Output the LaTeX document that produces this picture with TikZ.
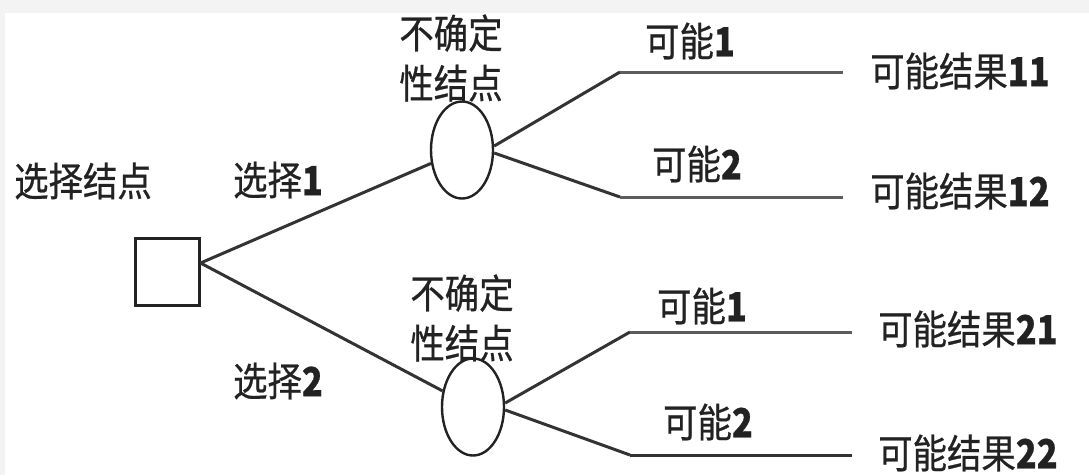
\documentclass[tikz,border=0pt]{standalone}
\usepackage{fontspec}
\setmainfont{Noto Sans CJK SC}
\newfontfamily\cjk[FakeStretch=0.86,FakeBold=0.6]{Noto Sans CJK SC}
\usetikzlibrary{shapes.geometric,calc}
\definecolor{bgstrip}{HTML}{F3F3F3}
\definecolor{ink}{HTML}{222222}
\definecolor{wire}{HTML}{333333}
\begin{document}
\begin{tikzpicture}[x=1pt,y=-1pt,
  lbl/.style={font=\cjk\fontsize{40}{50}\selectfont, text=ink, inner sep=0pt, align=center},
  choicebox/.style={draw=ink, line width=3pt, minimum width=64pt, minimum height=67pt, inner sep=0pt},
  chance/.style={draw=ink, line width=2.4pt, ellipse, minimum width=62pt, minimum height=97pt, inner sep=0pt},
  edge/.style={draw=wire, line width=3pt},
  hedge/.style={draw=wire!80, line width=3pt}]
\useasboundingbox (0,0) rectangle (1089,475);
\fill[bgstrip] (0,0) rectangle (1089,475);
\fill[white] (5,13) rectangle (1089,475);
% nodes
\node[choicebox] (sq) at (167,272) {};
\node[chance] (e1) at (462,150) {};
\node[chance] (e2) at (473,407) {};
% labels
\node[lbl] (tsq) at (83,181) {选择结点};
\node[lbl] (c1) at (278,180) {选择\textbf{1}};
\node[lbl] (c2) at (278,381) {选择\textbf{2}};
\node[lbl] (u1) at (451,58) {不确定\\性结点};
\node[lbl] (u2) at (462,318) {不确定\\性结点};
\node[lbl] (p11) at (690,41) {可能\textbf{1}};
\node[lbl] (p12) at (697,164) {可能\textbf{2}};
\node[lbl] (p21) at (702,306) {可能\textbf{1}};
\node[lbl] (p22) at (708,422) {可能\textbf{2}};
\node[lbl,anchor=west] (r11) at (870,71) {可能结果\textbf{11}};
\node[lbl,anchor=west] (r12) at (870,191) {可能结果\textbf{12}};
\node[lbl,anchor=west] (r21) at (878,329) {可能结果\textbf{21}};
\node[lbl,anchor=west] (r22) at (878,453) {可能结果\textbf{22}};
% coordinates
\coordinate (so) at ([yshift=9pt]sq.east);
\coordinate (e1a) at ([yshift=4pt]e1.east);
\coordinate (e1b) at ([yshift=-3pt]e1.east);
\coordinate (e2a) at ([yshift=4pt]e2.east);
\coordinate (e2b) at ([yshift=-3pt]e2.east);
\coordinate (k11) at (620,72);
\coordinate (k12) at (620,197);
\coordinate (k21) at (630,332);
\coordinate (k22) at (630,455);
\coordinate (f11) at (843,72);
\coordinate (f12) at (843,197);
\coordinate (f21) at (852,332);
\coordinate (f22) at (852,455);
% connectors
\draw[edge] (so) -- (e1);
\draw[edge] (so) -- (e2);
\draw[edge] (e1a) -- (k11);
\draw[edge] (e1b) -- (k12);
\draw[edge] (e2a) -- (k21);
\draw[edge] (e2b) -- (k22);
\draw[hedge] (k11) -- (f11);
\draw[hedge] (k12) -- (f12);
\draw[hedge] (k21) -- (f21);
\draw[edge] (k22) -- (f22);
\end{tikzpicture}
\end{document}
